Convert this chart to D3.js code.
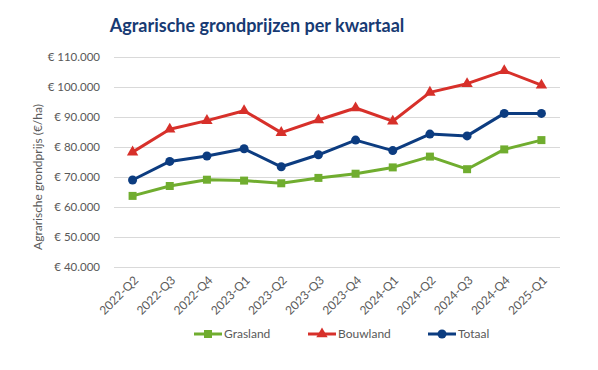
<!DOCTYPE html>
<html>
<head>
<meta charset="utf-8">
<script src="https://d3js.org/d3.v7.min.js"></script>
<style>
  body { margin: 0; background: #fff; }
  svg { display: block; font-family: Lato, "Open Sans", sans-serif; }
</style>
</head>
<body>
<div id="chart"></div>
<script>
// Data ----------------------------------------------------------------------->

const quarters = ['2022-Q2', '2022-Q3', '2022-Q4', '2023-Q1', '2023-Q2', '2023-Q3',
                  '2023-Q4', '2024-Q1', '2024-Q2', '2024-Q3', '2024-Q4', '2025-Q1'];
const grasland = [63700, 67000, 69100, 68800, 67900, 69700, 71100, 73200, 76800, 72600, 79200, 82300];
const bouwland = [78300, 85900, 88800, 92100, 84800, 89000, 93000, 88600, 98200, 101100, 105400, 100600];
const totaal   = [69000, 75200, 77000, 79400, 73400, 77400, 82300, 78800, 84300, 83700, 91200, 91200];
const y_ticks  = [40000, 50000, 60000, 70000, 80000, 90000, 100000, 110000];

const series = [
  { name: 'Grasland', values: grasland, color: '#70ad2f', marker: 'square' },
  { name: 'Bouwland', values: bouwland, color: '#d7302a', marker: 'triangle' },
  { name: 'Totaal',   values: totaal,   color: '#0c3c80', marker: 'circle' }
];

// Setup ---------------------------------------------------------------------->

const width = 598, height = 370;
const plot = { left: 114, right: 560, top: 57, bottom: 267 };

const svg = d3.select('#chart')
  .append('svg')
    .attr('width', width)
    .attr('height', height);

const x = d3.scalePoint()
  .domain(quarters)
  .range([plot.left, plot.right])
  .padding(0.5);

const y = d3.scaleLinear()
  .domain([40000, 110000])
  .range([plot.bottom, plot.top]);

const fmt = v => '€ ' + d3.format(',')(v).replace(/,/g, '.');

// Title
svg.append('text')
  .attr('x', 257)
  .attr('y', 32)
  .attr('text-anchor', 'middle')
  .style('font-size', '18px')
  .style('font-weight', 'bold')
  .style('fill', '#173a73')
  .text('Agrarische grondprijzen per kwartaal');

// Gridlines + y axis
const y_axis = svg.append('g')
  .attr('transform', `translate(${plot.left},0)`)
  .call(d3.axisLeft(y).tickValues(y_ticks).tickFormat(fmt)
    .tickSize(-(plot.right - plot.left)).tickPadding(14));
y_axis.select('.domain').remove();
y_axis.selectAll('.tick line').attr('stroke', '#d9d9d9').attr('stroke-width', 1);
y_axis.selectAll('.tick text')
  .style('font-family', 'Lato, sans-serif')
  .style('font-size', '11.5px')
  .style('fill', '#595959');

// Y axis title
svg.append('text')
  .attr('transform', 'translate(42,177) rotate(-90)')
  .attr('text-anchor', 'middle')
  .style('font-size', '12px')
  .style('fill', '#595959')
  .text('Agrarische grondprijs (€/ha)');

// X axis labels
const x_axis = svg.append('g')
  .attr('transform', `translate(0,${plot.bottom})`)
  .call(d3.axisBottom(x).tickSize(0).tickPadding(0));
x_axis.select('.domain').remove();
x_axis.selectAll('.tick text')
  .attr('text-anchor', 'end')
  .attr('dy', 0)
  .attr('transform', 'translate(6,14) rotate(-45)')
  .style('font-family', 'Lato, sans-serif')
  .style('font-size', '12px')
  .style('fill', '#595959');

// Lines and markers ---------------------------------------------------------->

const line = d3.line()
  .x((d, i) => x(quarters[i]))
  .y(d => y(d));

const sym = {
  square: d3.symbol().type(d3.symbolSquare).size(64),
  triangle: d3.symbol().type(d3.symbolTriangle).size(56),
  circle: d3.symbol().type(d3.symbolCircle).size(64)
};

series.forEach(s => {
  svg.append('path')
    .datum(s.values)
    .attr('fill', 'none')
    .attr('stroke', s.color)
    .attr('stroke-width', 3)
    .attr('stroke-linejoin', 'round')
    .attr('d', line);
  svg.append('g')
    .selectAll('path')
    .data(s.values)
    .join('path')
      .attr('transform', (d, i) => `translate(${x(quarters[i])},${y(d)})`)
      .attr('d', sym[s.marker])
      .attr('fill', s.color);
});

// Legend --------------------------------------------------------------------->

const legend_x = [194, 308, 428];
const legend = svg.append('g')
  .selectAll('g')
  .data(series)
  .join('g')
    .attr('transform', (d, i) => `translate(${legend_x[i]},334)`);
legend.append('line')
  .attr('x1', 0).attr('x2', 28)
  .attr('stroke', d => d.color)
  .attr('stroke-width', 3);
legend.append('path')
  .attr('transform', 'translate(14,0)')
  .attr('d', d => sym[d.marker]())
  .attr('fill', d => d.color);
legend.append('text')
  .attr('x', 30)
  .attr('y', 4)
  .style('font-size', '12px')
  .style('fill', '#595959')
  .text(d => d.name);
</script>
</body>
</html>
